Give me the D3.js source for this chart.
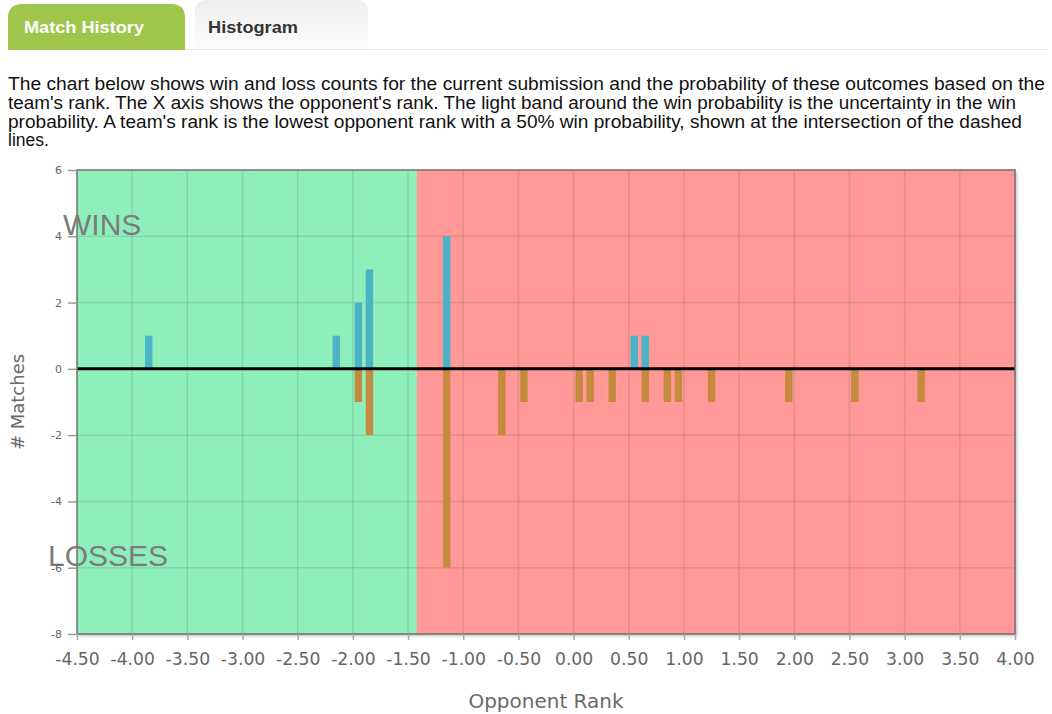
<!DOCTYPE html>
<html>
<head>
<meta charset="utf-8">
<script src="https://cdn.jsdelivr.net/npm/d3@7"></script>
<style>
  html, body { margin: 0; padding: 0; background: #fff; }
  svg { display: block; }
</style>
</head>
<body>
<svg id="chart" width="1052" height="714"></svg>
<script>
// ---------- data ----------
const tabLabels = ["Match History", "Histogram"];
const descriptionLines = [
  "The chart below shows win and loss counts for the current submission and the probability of these outcomes based on the",
  "team's rank. The X axis shows the opponent's rank. The light band around the win probability is the uncertainty in the win",
  "probability. A team's rank is the lowest opponent rank with a 50% win probability, shown at the intersection of the dashed",
  "lines."
];
const winRanks  = [-3.85, -2.15, -1.95, -1.85, -1.15, 0.55, 0.65];
const winCounts = [1, 1, 2, 3, 4, 1, 1];
const lossRanks  = [-1.95, -1.85, -1.15, -0.65, -0.45, 0.05, 0.15, 0.35, 0.65, 0.85, 0.95, 1.25, 1.95, 2.55, 3.15];
const lossCounts = [1, 2, 6, 2, 1, 1, 1, 1, 1, 1, 1, 1, 1, 1, 1];
const teamRank = -1.42;
const xDomain = [-4.5, 4.0];
const yDomain = [-8, 6];
const xTickValues = [-4.5, -4, -3.5, -3, -2.5, -2, -1.5, -1, -0.5, 0, 0.5, 1, 1.5, 2, 2.5, 3, 3.5, 4];
const yTickValues = [-8, -6, -4, -2, 0, 2, 4, 6];
const xTitle = "Opponent Rank";
const yTitle = "# Matches";
const winLabel = "WINS";
const lossLabel = "LOSSES";

// ---------- layout ----------
const svg = d3.select("#chart");
const plot = { left: 77, right: 1015, top: 170, bottom: 634 };
const x = d3.scaleLinear().domain(xDomain).range([plot.left, plot.right]);
const y = d3.scaleLinear().domain(yDomain).range([plot.bottom, plot.top]);
const loc = d3.formatLocale({decimal: ".", thousands: ",", grouping: [3], currency: ["", ""], minus: "-"});
const fmtX = loc.format(".2f");
const fmtY = loc.format("d");

const defs = svg.append("defs");
const grad = defs.append("linearGradient").attr("id", "tabGrad").attr("x1", 0).attr("y1", 0).attr("x2", 0).attr("y2", 1);
grad.append("stop").attr("offset", "0%").attr("stop-color", "#eeeeee");
grad.append("stop").attr("offset", "100%").attr("stop-color", "#fdfdfd");
const sh = defs.append("filter").attr("id", "shadow").attr("x", "-5%").attr("y", "-5%").attr("width", "110%").attr("height", "110%");
sh.append("feDropShadow").attr("dx", 2).attr("dy", 2).attr("stdDeviation", 1.5).attr("flood-color", "#000").attr("flood-opacity", 0.25);

// ---------- tabs ----------
function tabPath(x0, y0, x1, y1, r) {
  return `M${x0},${y1} L${x0},${y0 + r} Q${x0},${y0} ${x0 + r},${y0} L${x1 - r},${y0} Q${x1},${y0} ${x1},${y0 + r} L${x1},${y1} Z`;
}
svg.append("line").attr("x1", 8).attr("x2", 1046).attr("y1", 49.5).attr("y2", 49.5)
  .attr("stroke", "#e6e6e6").attr("stroke-width", 1);
svg.append("path").attr("d", tabPath(8, 4, 185, 50, 14)).attr("fill", "#9dc64b");
svg.append("path").attr("d", tabPath(195, 0, 368, 49, 12)).attr("fill", "url(#tabGrad)");
svg.append("text").attr("x", 24).attr("y", 33).text(tabLabels[0])
  .attr("font-family", "Liberation Sans, Arial, sans-serif").attr("font-weight", "bold")
  .attr("font-size", 17).attr("fill", "#ffffff").attr("textLength", 120).attr("lengthAdjust", "spacingAndGlyphs");
svg.append("text").attr("x", 208).attr("y", 33).text(tabLabels[1])
  .attr("font-family", "Liberation Sans, Arial, sans-serif").attr("font-weight", "bold")
  .attr("font-size", 17).attr("fill", "#333333").attr("textLength", 90).attr("lengthAdjust", "spacingAndGlyphs");

// ---------- description ----------
const lineWidths = [1037, 1008, 1014, null];
svg.append("g").selectAll("text").data(descriptionLines).join("text")
  .attr("x", 8).attr("y", (d, i) => 90 + i * 18.8)
  .attr("font-family", "Liberation Sans, Arial, sans-serif").attr("font-size", 17.5)
  .attr("fill", "#111")
  .each(function(d, i) { if (lineWidths[i]) d3.select(this).attr("textLength", lineWidths[i]).attr("lengthAdjust", "spacingAndGlyphs"); })
  .text(d => d);

// ---------- plot backgrounds ----------
const g = svg.append("g");
g.append("rect").attr("x", plot.left).attr("y", plot.top)
  .attr("width", plot.right - plot.left).attr("height", plot.bottom - plot.top)
  .attr("fill", "#ff9896").attr("filter", "url(#shadow)");
g.append("rect").attr("x", x(xDomain[0])).attr("y", plot.top)
  .attr("width", x(teamRank) - x(xDomain[0])).attr("height", plot.bottom - plot.top)
  .attr("fill", "#8fefbb");

// grid
const gridColor = "rgba(80,100,90,0.17)";
g.append("g").selectAll("line").data(xTickValues.slice(1, -1)).join("line")
  .attr("x1", d => x(d)).attr("x2", d => x(d)).attr("y1", plot.top).attr("y2", plot.bottom)
  .attr("stroke", gridColor).attr("stroke-width", 1.5);
g.append("g").selectAll("line").data(yTickValues.filter(v => v !== 0 && v !== yDomain[0] && v !== yDomain[1])).join("line")
  .attr("x1", plot.left).attr("x2", plot.right).attr("y1", d => y(d)).attr("y2", d => y(d))
  .attr("stroke", gridColor).attr("stroke-width", 1.5);

// bars
const barW = 7.4;
g.append("g").selectAll("rect").data(winRanks.map((r, i) => ({r, c: winCounts[i]}))).join("rect")
  .attr("x", d => x(d.r) - barW / 2).attr("width", barW)
  .attr("y", d => y(d.c)).attr("height", d => y(0) - y(d.c))
  .attr("fill", "#4bb3c8");
g.append("g").selectAll("rect").data(lossRanks.map((r, i) => ({r, c: lossCounts[i]}))).join("rect")
  .attr("x", d => x(d.r) - barW / 2).attr("width", barW)
  .attr("y", y(0)).attr("height", d => y(-d.c) - y(0))
  .attr("fill", "#c48a3e");

// zero line
g.append("line").attr("x1", plot.left).attr("x2", plot.right).attr("y1", y(0)).attr("y2", y(0))
  .attr("stroke", "#000").attr("stroke-width", 3);

// border
g.append("rect").attr("x", plot.left).attr("y", plot.top)
  .attr("width", plot.right - plot.left).attr("height", plot.bottom - plot.top)
  .attr("fill", "none").attr("stroke", "rgba(110,110,110,0.75)").attr("stroke-width", 2);

// WINS / LOSSES
g.append("text").attr("x", 63).attr("y", 235).text(winLabel)
  .attr("font-family", "Liberation Sans, Arial, sans-serif").attr("font-size", 30).attr("fill", "#7b7b7b");
g.append("text").attr("x", 48).attr("y", 566).text(lossLabel)
  .attr("font-family", "Liberation Sans, Arial, sans-serif").attr("font-size", 30).attr("fill", "#7b7b7b");

// axes
const xAxis = d3.axisBottom(x).tickValues(xTickValues).tickFormat(fmtX).tickSize(6).tickPadding(13);
const gx = svg.append("g").attr("transform", `translate(0,${plot.bottom})`).call(xAxis);
gx.select(".domain").remove();
gx.selectAll(".tick line").attr("stroke", "#aaa").attr("stroke-width", 1.5);
gx.selectAll(".tick text").attr("font-family", "DejaVu Sans, Verdana, sans-serif").attr("font-size", 17.2).attr("fill", "#666");

const yAxis = d3.axisLeft(y).tickValues(yTickValues).tickFormat(fmtY).tickSize(9).tickPadding(6);
const gy = svg.append("g").attr("transform", `translate(${plot.left},0)`).call(yAxis);
gy.select(".domain").remove();
gy.selectAll(".tick line").attr("stroke", "#999").attr("stroke-width", 1.5);
gy.selectAll(".tick text").attr("font-family", "DejaVu Sans, Verdana, sans-serif").attr("font-size", 11).attr("fill", "#666");

svg.append("text").attr("x", (plot.left + plot.right) / 2).attr("y", 708).attr("text-anchor", "middle")
  .text(xTitle).attr("font-family", "DejaVu Sans, Verdana, sans-serif").attr("font-size", 20).attr("fill", "#6a6a6a");
svg.append("text").attr("transform", `translate(24,${(plot.top + plot.bottom) / 2}) rotate(-90)`)
  .attr("text-anchor", "middle").text(yTitle)
  .attr("font-family", "DejaVu Sans, Verdana, sans-serif").attr("font-size", 18).attr("fill", "#6a6a6a");
</script>
</body>
</html>
